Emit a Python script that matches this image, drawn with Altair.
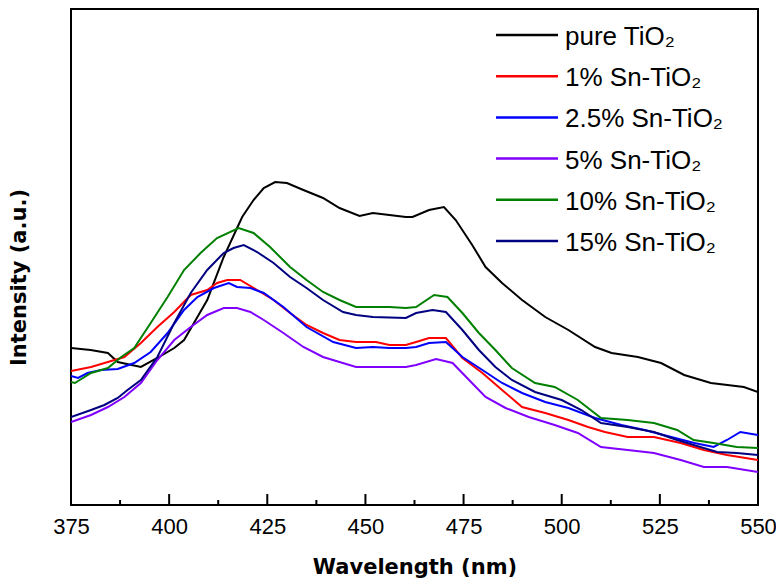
import altair as alt
import pandas as pd

# ---- data (intensity in arbitrary units) ----
labels = ["pure TiO₂", "1% Sn-TiO₂", "2.5% Sn-TiO₂", "5% Sn-TiO₂", "10% Sn-TiO₂", "15% Sn-TiO₂"]
colors = ["#000000", "#FF0000", "#0000FF", "#8000FF", "#008000", "#000080"]

wl_pure = [375, 380, 384.4, 386.9, 392.8, 397, 401.3, 403.8, 407.2, 409.7, 413.9, 418.6, 421.5, 424.1, 427, 430,
           434.2, 439.2, 443.4, 448.5, 451.9, 456.1, 460.3, 462, 466.2, 470, 473, 477.2, 480.6, 484.8, 489.9,
           495.8, 501.7, 508.5, 512.7, 519.4, 525.3, 531.2, 538, 546.4, 550]
int_pure = [157, 155, 152, 143, 138, 147, 157, 165, 188, 205, 248, 288, 305, 317, 323, 322, 315, 307, 297, 289,
            292, 290, 288, 288, 295, 298, 285, 260, 238, 222, 205, 188, 175, 158, 152, 148, 142, 130, 122, 118, 113]

wl_1 = [375, 380.1, 384.4, 388.6, 392.8, 397, 401.3, 405.5, 409.7, 412.2, 414.8, 418.1, 422.4, 426.6, 430.8, 435,
        439.2, 443.4, 447.6, 452.7, 456.1, 460.3, 462.9, 466.2, 470.5, 474.7, 479.8, 484.8, 489.9, 495.8, 501.7,
        506.7, 511, 516.8, 523.5, 530.3, 536.2, 542.1, 550]
int_1 = [134, 138, 143, 148, 162, 178, 193, 210, 215, 222, 225, 225, 215, 205, 192, 180, 172, 165, 163, 163, 160,
         160, 163, 167, 167, 147, 132, 115, 98, 92, 85, 78, 73, 68, 68, 62, 55, 50, 45]

wl_25 = [375, 376.8, 379.2, 382.7, 386.9, 391.1, 395.3, 399.6, 403.8, 407.2, 411.4, 415.2, 417.3, 420.7, 424.1,
         429.1, 435, 441.8, 447.6, 451.9, 456.1, 460.3, 462.9, 466.2, 470.5, 474.7, 479.8, 484.8, 489.9, 495.8,
         501.7, 508.5, 515.2, 521.1, 527.9, 533.8, 538.7, 542.1, 545.5, 550]
int_25 = [129, 127, 132, 135, 136, 142, 153, 172, 195, 208, 217, 222, 218, 217, 212, 198, 178, 163, 157, 158, 157,
          157, 158, 162, 163, 148, 135, 122, 112, 103, 97, 87, 80, 75, 68, 62, 58, 65, 73, 70]

wl_5 = [375, 380.1, 384.4, 388.6, 392.8, 397, 401.3, 405.5, 409.7, 413.9, 417.3, 420.7, 424.1, 429.1, 434.2, 439.2,
        443.4, 447.6, 452.7, 460.3, 462.9, 468, 472.2, 476.4, 480.6, 485.7, 491.6, 498.2, 504.1, 510, 516.8, 523.5,
        530.3, 536.2, 542.1, 550]
int_5 = [83, 90, 98, 108, 122, 145, 165, 178, 190, 197, 197, 193, 185, 172, 158, 148, 143, 138, 138, 138, 140, 146,
         142, 125, 108, 97, 88, 80, 72, 58, 55, 52, 45, 38, 38, 33]

wl_10 = [375, 376, 380.1, 384.4, 387.8, 391.1, 395.3, 399.6, 403.8, 408, 412.2, 417.7, 421.5, 425.7, 430.8, 435,
         439.2, 443.4, 447.6, 451.9, 456.1, 460.3, 462.9, 467.5, 470.9, 474.7, 478.9, 483.1, 487.3, 493.2, 498.2,
         504.1, 510, 516.8, 523.5, 529.4, 533.6, 538.7, 544.6, 550]
int_10 = [123, 122, 132, 137, 148, 157, 182, 208, 235, 252, 267, 277, 272, 258, 238, 225, 213, 205, 198, 198, 198,
          197, 198, 210, 208, 192, 172, 155, 137, 122, 118, 105, 87, 85, 82, 75, 65, 62, 58, 57]

wl_15 = [375, 380.1, 383.5, 386.9, 389.4, 392.8, 397, 401.3, 405.5, 409.7, 413.9, 416.4, 419, 422.4, 426.6, 430.8,
         435, 439.2, 444.3, 447.6, 451.9, 460.3, 462.9, 467.1, 470.5, 474.7, 478.9, 483.1, 487.3, 493.2, 500, 505,
         510, 516.8, 523.5, 529.4, 535.3, 539.6, 544.6, 550]
int_15 = [88, 95, 100, 107, 115, 125, 148, 182, 212, 235, 252, 257, 260, 253, 242, 228, 217, 205, 193, 190, 188,
          187, 192, 195, 193, 175, 155, 138, 125, 113, 105, 95, 82, 78, 73, 65, 58, 53, 52, 50]

major_ticks = [375, 400, 425, 450, 475, 500, 525, 550]
minor_ticks = [387.5, 412.5, 437.5, 462.5, 487.5, 512.5, 537.5]

# ---- build tables ----
series = [(labels[0], wl_pure, int_pure), (labels[1], wl_1, int_1), (labels[2], wl_25, int_25),
          (labels[3], wl_5, int_5), (labels[4], wl_10, int_10), (labels[5], wl_15, int_15)]
rows = []
for name, wl, iv in series:
    for w, v in zip(wl, iv):
        rows.append({"sample": name, "wavelength": w, "intensity": v})
df = pd.DataFrame(rows)

df_major = pd.DataFrame({"wavelength": major_ticks})
df_minor = pd.DataFrame({"wavelength": minor_ticks})
df_legend = pd.DataFrame({"sample": labels, "idx": list(range(len(labels)))})

W, H = 687, 496

x_scale = alt.Scale(domain=[375, 550], nice=False, zero=False)
y_scale = alt.Scale(domain=[0, 496], nice=False, zero=False)
color_scale = alt.Scale(domain=labels, range=colors)

x_axis = alt.Axis(
    title="Wavelength (nm)", values=major_ticks, ticks=False, domain=False, grid=False,
    labelFont="Liberation Sans", labelFontSize=22, labelColor="black", labelPadding=28,
    labelBaseline="alphabetic", labelFlush=False,
    titleFont="DejaVu Sans", titleFontSize=21, titleFontWeight="bold", titleColor="black",
    titleY=68, titleBaseline="alphabetic",
)
y_axis = alt.Axis(
    title="Intensity (a.u.)", labels=False, ticks=False, domain=False, grid=False,
    titleFont="DejaVu Sans", titleFontSize=21, titleFontWeight="bold", titleColor="black",
    titleX=-42, titleY=268,
)

lines = alt.Chart(df).mark_line(strokeWidth=2, clip=True).encode(
    x=alt.X("wavelength:Q", scale=x_scale, axis=x_axis),
    y=alt.Y("intensity:Q", scale=y_scale, axis=y_axis),
    color=alt.Color("sample:N", scale=color_scale, legend=None),
    detail="sample:N",
)

major = alt.Chart(df_major).mark_rule(color="black", strokeWidth=2).encode(
    x=alt.X("wavelength:Q", scale=x_scale, axis=x_axis),
    y=alt.value(H), y2=alt.value(H - 11),
)
minor = alt.Chart(df_minor).mark_rule(color="black", strokeWidth=2).encode(
    x=alt.X("wavelength:Q", scale=x_scale, axis=x_axis),
    y=alt.value(H), y2=alt.value(H - 5),
)

leg_base = alt.Chart(df_legend).transform_calculate(
    ly="26 + 41.2 * datum.idx", ty="36 + 41.2 * datum.idx"
)
leg_lines = leg_base.mark_rule(strokeWidth=2.5).encode(
    x=alt.value(425), x2=alt.value(487),
    y=alt.Y("ly:Q", scale=None, axis=None),
    color=alt.Color("sample:N", scale=color_scale, legend=None),
)
leg_text = leg_base.mark_text(
    align="left", baseline="alphabetic", font="Liberation Sans", fontSize=26, color="black"
).encode(
    x=alt.value(494),
    y=alt.Y("ty:Q", scale=None, axis=None),
    text="sample:N",
)

chart = alt.layer(lines, major, minor, leg_lines, leg_text).properties(
    width=W, height=H,
    autosize=alt.AutoSizeParams(type="none"),
    padding={"left": 63, "top": 1, "right": 18, "bottom": 74},
).configure_view(stroke="black", strokeWidth=2).configure_axis(grid=False)

chart.save("out.html", embed_options={"renderer": "svg", "actions": False})
